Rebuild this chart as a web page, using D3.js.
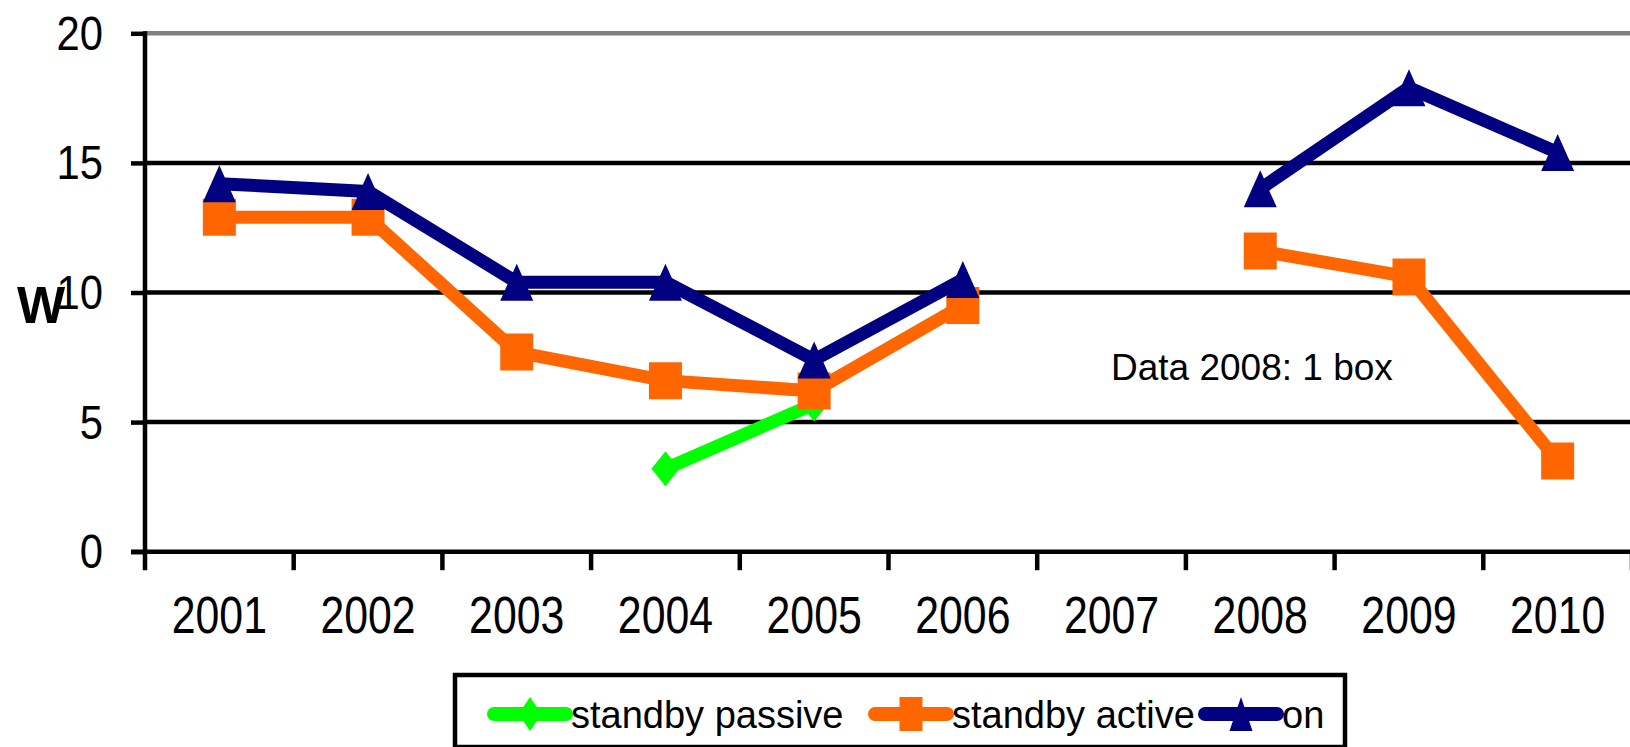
<!DOCTYPE html>
<meta charset="utf-8">
<style>
	body { margin: 0; background: #fff; }
	svg { display: block; font-family: "Liberation Sans", Arial, sans-serif; }
</style>
<svg width="1630" height="747"></svg>
<script src="https://d3js.org/d3.v7.min.js"></script>
<script>
	// data
	var years = ['2001', '2002', '2003', '2004', '2005', '2006', '2007', '2008', '2009', '2010'];
	var standbyPassive = [null, null, null, 3.2, 5.7, null, null, null, null, null];
	var standbyActive = [12.9, 12.9, 7.7, 6.6, 6.2, 9.5, null, 11.6, 10.6, 3.5];
	var onMode = [14.2, 13.9, 10.4, 10.4, 7.4, 10.5, null, 14.0, 17.9, 15.4];
	var yTicks = [0, 5, 10, 15, 20];
	var seriesNames = ['standby passive', 'standby active', 'on'];
	var seriesColors = ['#00ff00', '#ff6600', '#000080'];
	var seriesShapes = ['diamond', 'square', 'triangle'];
	var note = 'Data 2008: 1 box';
	var yLabel = 'W';

	// layout (window.top is read-only, so use other names)
	var plotLeft = 145, plotRight = 1632, plotTop = 33.3, plotBottom = 551.7;
	var svg = d3.select('svg');

	var x = d3.scaleBand().domain(years).range([plotLeft, plotRight]);
	var y = d3.scaleLinear().domain([0, 20]).range([plotBottom, plotTop]);

	// gridlines
	svg.append('g')
		.selectAll('line')
		.data(yTicks.filter(function(d) { return d > 0; }))
		.enter().append('line')
			.attr('x1', plotLeft).attr('x2', 1630)
			.attr('y1', function(d) { return y(d); })
			.attr('y2', function(d) { return y(d); })
			.attr('stroke', function(d) { return d === 20 ? '#808080' : '#000'; })
			.attr('stroke-width', 4.5);

	// y axis
	var gy = svg.append('g')
		.attr('transform', 'translate(' + plotLeft + ',0)')
		.call(d3.axisLeft(y).tickValues(yTicks).tickSize(14).tickFormat(d3.format('d')));
	gy.select('.domain').remove();
	gy.selectAll('.tick line').attr('stroke', '#000').attr('stroke-width', 4.5);
	gy.selectAll('.tick text')
		.attr('x', 0).attr('dy', null).attr('y', 16)
		.attr('transform', 'translate(-42,0) scale(0.87,1)')
		.attr('font-size', 48).attr('fill', '#000')
		.attr('text-anchor', 'end');
	svg.append('line')
		.attr('x1', plotLeft).attr('x2', plotLeft)
		.attr('y1', plotTop - 2).attr('y2', plotBottom + 18.5)
		.attr('stroke', '#000').attr('stroke-width', 4.5);

	// x axis
	var gx = svg.append('g')
		.attr('transform', 'translate(0,' + plotBottom + ')')
		.call(d3.axisBottom(x).tickSize(0));
	gx.select('.domain').remove();
	gx.selectAll('.tick text')
		.attr('y', 0).attr('dy', null)
		.attr('transform', 'translate(0,81) scale(0.84,1)')
		.attr('font-size', 51).attr('fill', '#000');
	svg.append('line')
		.attr('x1', 131).attr('x2', 1630)
		.attr('y1', plotBottom).attr('y2', plotBottom)
		.attr('stroke', '#000').attr('stroke-width', 4.5);
	svg.append('g')
		.selectAll('line')
		.data(years.slice(1).concat(['end']))
		.enter().append('line')
			.attr('x1', function(d) { return d === 'end' ? plotRight : x(d); })
			.attr('x2', function(d) { return d === 'end' ? plotRight : x(d); })
			.attr('y1', plotBottom).attr('y2', plotBottom + 18.5)
			.attr('stroke', '#000').attr('stroke-width', 4.5);

	// axis title
	svg.append('text')
		.attr('x', 17).attr('y', 323)
		.attr('font-size', 51).attr('font-weight', 'bold')
		.text(yLabel);

	// note
	svg.append('text')
		.attr('x', 1111).attr('y', 380)
		.attr('font-size', 37)
		.text(note);

	// markers
	function marker(shape, w, h) {
		var a = w / 2, b = h / 2;
		if (shape === 'triangle') return 'M0,' + (-b) + 'L' + a + ',' + b + 'L' + (-a) + ',' + b + 'Z';
		if (shape === 'diamond') return 'M0,' + (-b) + 'L' + a + ',0L0,' + b + 'L' + (-a) + ',0Z';
		return 'M' + (-a) + ',' + (-b) + 'H' + a + 'V' + b + 'H' + (-a) + 'Z';
	}
	var markerSize = { triangle: [33, 37], square: [33, 37], diamond: [28, 35] };

	var line = d3.line()
		.defined(function(d) { return d.v != null; })
		.x(function(d) { return x(d.year) + x.bandwidth() / 2; })
		.y(function(d) { return y(d.v); });

	[standbyPassive, standbyActive, onMode].forEach(function(values, i) {
		var pts = years.map(function(yr, j) { return { year: yr, v: values[j] }; });
		var g = svg.append('g');
		g.append('path')
			.attr('d', line(pts))
			.attr('fill', 'none')
			.attr('stroke', seriesColors[i])
			.attr('stroke-width', 13)
			.attr('stroke-linejoin', 'round');
		var s = markerSize[seriesShapes[i]];
		g.selectAll('path.m')
			.data(pts.filter(function(d) { return d.v != null; }))
			.enter().append('path')
				.attr('class', 'm')
				.attr('transform', function(d) { return 'translate(' + (x(d.year) + x.bandwidth() / 2) + ',' + y(d.v) + ')'; })
				.attr('d', marker(seriesShapes[i], s[0], s[1]))
				.attr('fill', seriesColors[i]);
	});

	// legend
	var legend = svg.append('g');
	legend.append('rect')
		.attr('x', 455).attr('y', 675)
		.attr('width', 890).attr('height', 72)
		.attr('fill', '#fff').attr('stroke', '#000').attr('stroke-width', 4.5);
	var legendX = [494, 875, 1205];
	seriesNames.forEach(function(name, i) {
		var g = legend.append('g').attr('transform', 'translate(' + legendX[i] + ',714)');
		g.append('line')
			.attr('x1', 0).attr('x2', 72)
			.attr('stroke', seriesColors[i]).attr('stroke-width', 14)
			.attr('stroke-linecap', 'round');
		g.append('path')
			.attr('transform', 'translate(36,0)')
			.attr('d', marker(seriesShapes[i], 23, 34))
			.attr('fill', seriesColors[i]);
		g.append('text')
			.attr('x', 77).attr('y', 14)
			.attr('font-size', 38)
			.text(name);
	});
</script>
